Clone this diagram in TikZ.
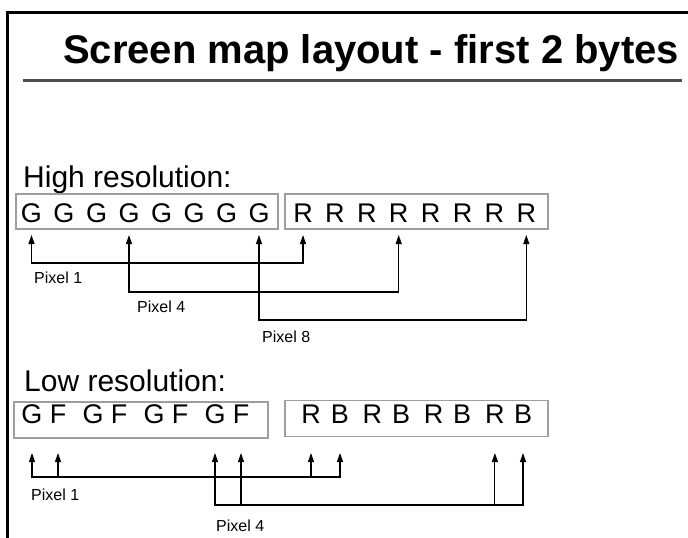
\documentclass[tikz,border=0pt]{standalone}
\usepackage{fontspec}
\setmainfont{Liberation Sans}
\usetikzlibrary{arrows.meta}
\begin{document}
\begin{tikzpicture}[
  x=1pt, y=-1pt,
  every node/.style={inner sep=0pt},
  bytebox/.style={draw=black!38, line width=1.8pt, minimum height=35pt},
  bit/.style={anchor=base, font=\fontsize{27}{27}\selectfont},
  pixpair/.style={{Triangle[length=9pt,width=6pt]}-{Triangle[length=9pt,width=6pt]}, line width=1.1pt},
  pixone/.style={{Triangle[length=9pt,width=6pt]}-, line width=1.1pt},
  lbl/.style={anchor=base west, font=\fontsize{16}{16}\selectfont}
]
  \useasboundingbox (0,0) rectangle (688,538);
  \draw[line width=3pt] (7,538) -- (7,12) -- (688,12);
  \draw[line width=3pt, black!70] (23,80) -- (682,80);
  \node[anchor=base, font=\fontsize{40}{40}\selectfont\bfseries] (title) at (371,63) {Screen map layout - first 2 bytes};

  \node[anchor=base west, font=\fontsize{30}{30}\selectfont] (hires) at (23,187) {High resolution:};
  \node[bytebox, minimum width=262pt] (hbox1) at (147,211.5) {};
  \node[bytebox, minimum width=263pt] (hbox2) at (416.5,211.5) {};
  \foreach \i in {1,...,8} {
    \node[bit] (hG\i) at ({31.5+32.5*(\i-1)},222) {G};
    \node[bit] (hR\i) at ({303+31.9*(\i-1)},222) {R};
  }
  \draw[pixpair, shorten <=13pt, shorten >=13pt] (hG1.base) -- ++(0,41) -| (hR1.base);
  \draw[pixpair, shorten <=13pt, shorten >=13pt] (hG4.base) -- ++(0,70) -| (hR4.base);
  \draw[pixpair, shorten <=13pt, shorten >=13pt] (hG8.base) -- ++(0,98) -| (hR8.base);
  \node[lbl] (hp1) at (34,283) {Pixel 1};
  \node[lbl] (hp4) at (137,312) {Pixel 4};
  \node[lbl] (hp8) at (262,342) {Pixel 8};

  \node[anchor=base west, font=\fontsize{30}{30}\selectfont] (lores) at (24,391) {Low resolution:};
  \node[bytebox, minimum width=254pt, minimum height=36pt] (lbox1) at (141,420) {};
  \node[bytebox, minimum width=263pt, minimum height=36pt] (lbox2) at (416.5,418.5) {};
  \foreach \i in {1,...,4} {
    \node[bit] (lG\i) at ({32+61*(\i-1)},423) {G};
    \node[bit] (lF\i) at ({58+61*(\i-1)},423) {F};
    \node[bit] (lR\i) at ({311+61.3*(\i-1)},423) {R};
    \node[bit] (lB\i) at ({340+61*(\i-1)},423) {B};
  }
  \draw[pixpair, shorten <=30pt, shorten >=30pt] (lG1.base) -- ++(0,54) -| (lB1.base);
  \draw[pixone, shorten <=30pt] (lF1.base) -- ++(0,54);
  \draw[pixone, shorten <=30pt] (lR1.base) -- ++(0,54);
  \draw[pixpair, shorten <=30pt, shorten >=30pt] (lG4.base) -- ++(0,82) -| (lB4.base);
  \draw[pixone, shorten <=30pt] (lF4.base) -- ++(0,82);
  \draw[pixone, shorten <=30pt] (lR4.base) -- ++(0,82);
  \node[lbl] (lp1) at (31,500) {Pixel 1};
  \node[lbl] (lp4) at (216,531) {Pixel 4};
\end{tikzpicture}
\end{document}
